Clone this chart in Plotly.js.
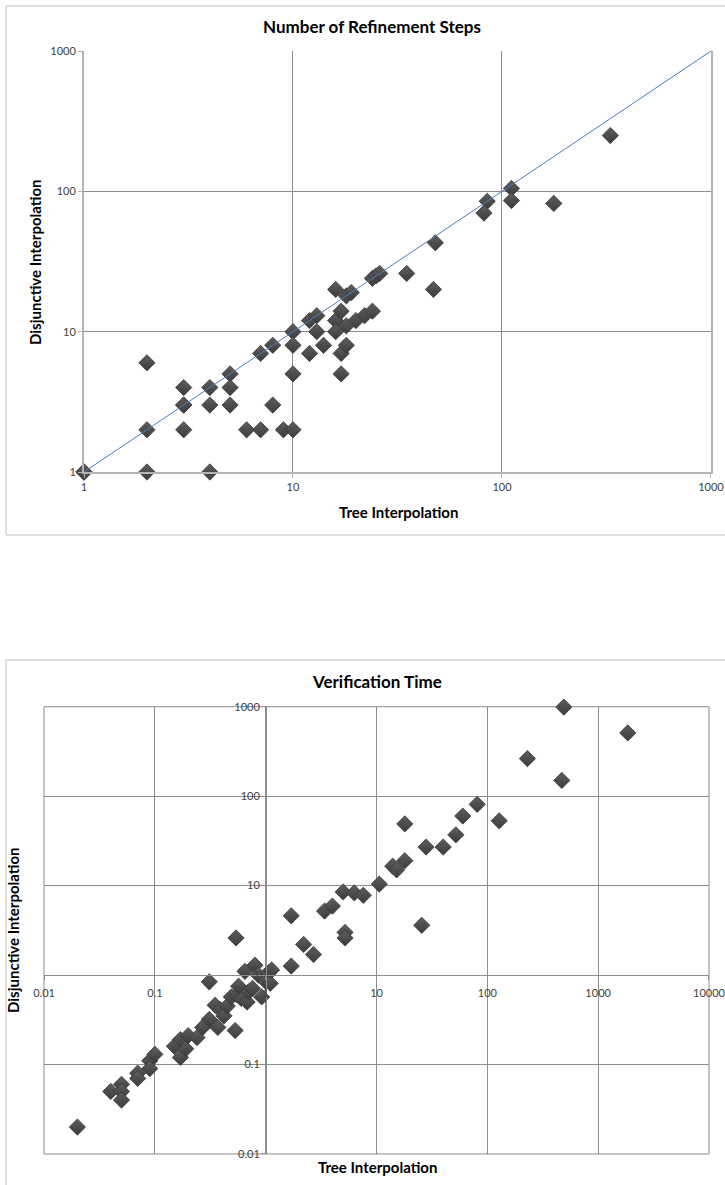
<!DOCTYPE html>
<html>
<head>
<meta charset="utf-8">
<script src="https://cdn.plot.ly/plotly-3.0.1.min.js"></script>
<style>html,body{margin:0;padding:0;background:#fff;}#chart{width:725px;height:1185px;}</style>
</head>
<body>
<div id="chart"></div>
<script>
// ---- Chart 1: Number of Refinement Steps ----
const refTree = [1,1,1,2,4,2,2,3,3,3,3,4,4,5,5,5,6,7,7,8,8,9,10,10,10,10,12,14,17,18,17,12,13,13,16,16,17,18,20,22,24,16,18,19,24,25,26,35,48,47,85,82,111,111,177,330];
const refDisj = [1,1,1,1,1,6,2,4,3,3,2,4,3,5,4,3,2,2,7,3,8,2,2,10,8,5,7,8,7,8,5,12,13,10,12,10,14,11,12,13,14,20,18,19,24,25,26,26,43,20,85,70,105,86,82,250];
const diagX = [1, 1000];
const diagY = [1, 1000];
const refTickVals = [1, 10, 100, 1000];
const refTickText = ['1', '10', '100', '1000'];

// ---- Chart 2: Verification Time ----
const timeTree = [0.02,0.04,0.05,0.05,0.05,0.07,0.07,0.09,0.09,0.1,0.15,0.17,0.17,0.19,0.2,0.24,0.27,0.31,0.37,0.31,0.35,0.39,0.42,0.45,0.49,0.53,0.55,0.6,0.57,0.65,0.68,0.7,0.76,0.8,0.86,0.92,1.0,1.06,1.1,1.13,0.54,1.7,1.7,2.2,2.7,3.4,4.0,5.0,6.3,7.6,5.2,5.2,10.6,14,15.2,18,18,28,40,52,60,81,128,25.6,230,470,490,1850];
const timeDisj = [0.02,0.05,0.06,0.05,0.04,0.08,0.07,0.11,0.09,0.13,0.16,0.12,0.19,0.15,0.21,0.2,0.26,0.32,0.26,0.84,0.46,0.41,0.35,0.45,0.57,0.24,0.6,0.55,0.75,1.1,0.5,0.65,0.71,1.29,1.0,0.57,0.85,1.06,0.81,1.14,2.6,4.6,1.26,2.2,1.7,5.2,5.9,8.5,8.3,7.8,3.0,2.6,10.4,16.5,15,19,49,27,27,37,60,81,53,3.6,263,150,990,510];
const timeTickVals = [0.01, 0.1, 1, 10, 100, 1000, 10000];
const timeTickText = ['0.01', '0.1', '1', '10', '100', '1000', '10000'];
const timeYTickVals = [0.01, 0.1, 1, 10, 100, 1000];
const timeYTickText = ['0.01', '0.1', '1', '10', '100', '1000'];

const W = 725, H = 1185;
const px = v => v / W;
const py = v => 1 - v / H;

const FONT = 'Lato, "Open Sans", "Liberation Sans", sans-serif';
const tickFont = {family: FONT, size: 11, color: '#404040'};
const markerStyle = {symbol: 'diamond', size: 12.5, color: '#5e5e5e', line: {color: '#383838', width: 0.8},
                     gradient: {type: 'vertical', color: '#3c3c3c'}};

const traces = [
  {x: refTree, y: refDisj, type: 'scatter', mode: 'markers', marker: markerStyle, xaxis: 'x', yaxis: 'y', showlegend: false, cliponaxis: false},
  {x: diagX, y: diagY, type: 'scatter', mode: 'lines', line: {color: '#4a7ebb', width: 1}, xaxis: 'x', yaxis: 'y', showlegend: false, cliponaxis: false},
  {x: timeTree, y: timeDisj, type: 'scatter', mode: 'markers', marker: markerStyle, xaxis: 'x2', yaxis: 'y2', showlegend: false, cliponaxis: false}
];

const gridCol = '#8c8c8c';
const layout = {
  width: W, height: H,
  margin: {l: 0, r: 0, t: 0, b: 0},
  paper_bgcolor: '#ffffff', plot_bgcolor: '#ffffff',
  showlegend: false,
  xaxis: {
    type: 'log', range: [0, 3.0002], domain: [px(84), px(711)], anchor: 'y',
    tickvals: refTickVals, ticktext: refTickText, tickfont: tickFont, ticklabeloverflow: 'allow',
    showgrid: true, gridcolor: gridCol, gridwidth: 1,
    showline: true, linecolor: '#b4b4b4', linewidth: 2,
    ticks: 'outside', ticklen: 4, tickcolor: '#b4b4b4', zeroline: false
  },
  yaxis: {
    type: 'log', range: [0, 3.0002], domain: [py(472), py(51)], anchor: 'x',
    tickvals: refTickVals, ticktext: refTickText, tickfont: tickFont,
    showgrid: true, gridcolor: gridCol, gridwidth: 1,
    showline: true, linecolor: '#b4b4b4', linewidth: 2, mirror: true,
    ticks: 'outside', ticklen: 4, tickcolor: '#b4b4b4', zeroline: false
  },
  xaxis2: {
    type: 'log', range: [-2.0003, 4.0003], domain: [px(44), px(709)], anchor: 'free', position: py(975),
    tickvals: timeTickVals, ticktext: timeTickText, tickfont: tickFont, ticklabelstandoff: 4, ticklabeloverflow: 'allow',
    showgrid: true, gridcolor: gridCol, gridwidth: 1,
    showline: true, linecolor: gridCol, linewidth: 1,
    ticks: 'outside', ticklen: 4, tickcolor: gridCol, zeroline: false
  },
  yaxis2: {
    type: 'log', range: [-2.0003, 3.0003], domain: [py(1154), py(706.7)], anchor: 'free', position: px(266),
    tickvals: timeYTickVals, ticktext: timeYTickText, tickfont: tickFont,
    showgrid: true, gridcolor: gridCol, gridwidth: 1,
    showline: true, linecolor: gridCol, linewidth: 1,
    ticks: 'outside', ticklen: 4, tickcolor: gridCol, zeroline: false
  },
  shapes: [
    {type: 'rect', xref: 'paper', yref: 'paper', x0: px(6), x1: px(740), y0: py(535), y1: py(6), line: {color: '#bfbfbf', width: 1}, fillcolor: 'rgba(0,0,0,0)', layer: 'below'},
    {type: 'rect', xref: 'paper', yref: 'paper', x0: px(6), x1: px(740), y0: py(1200), y1: py(660), line: {color: '#bfbfbf', width: 1}, fillcolor: 'rgba(0,0,0,0)', layer: 'below'},
    {type: 'rect', xref: 'x2 domain', yref: 'y2 domain', x0: 0, x1: 1, y0: 0, y1: 1, line: {color: gridCol, width: 1}, fillcolor: 'rgba(0,0,0,0)', layer: 'below'}
  ],
  annotations: [
    {text: '<b>Number of Refinement Steps</b>', xref: 'paper', yref: 'paper', x: px(372), y: py(26), xanchor: 'center', yanchor: 'middle', showarrow: false, font: {family: FONT, size: 17, color: '#000'}},
    {text: '<b>Tree Interpolation</b>', xref: 'paper', yref: 'paper', x: px(398), y: py(512), xanchor: 'center', yanchor: 'middle', showarrow: false, font: {family: FONT, size: 15, color: '#000'}},
    {text: '<b>Disjunctive Interpolation</b>', xref: 'paper', yref: 'paper', x: px(35), y: py(262), xanchor: 'center', yanchor: 'middle', textangle: -90, showarrow: false, font: {family: FONT, size: 15, color: '#000'}},
    {text: '<b>Verification Time</b>', xref: 'paper', yref: 'paper', x: px(377), y: py(681), xanchor: 'center', yanchor: 'middle', showarrow: false, font: {family: FONT, size: 17, color: '#000'}},
    {text: '<b>Tree Interpolation</b>', xref: 'paper', yref: 'paper', x: px(377), y: py(1167), xanchor: 'center', yanchor: 'middle', showarrow: false, font: {family: FONT, size: 15, color: '#000'}},
    {text: '<b>Disjunctive Interpolation</b>', xref: 'paper', yref: 'paper', x: px(13), y: py(930), xanchor: 'center', yanchor: 'middle', textangle: -90, showarrow: false, font: {family: FONT, size: 15, color: '#000'}}
  ]
};

Plotly.newPlot('chart', traces, layout, {displayModeBar: false, staticPlot: true});
</script>
</body>
</html>
